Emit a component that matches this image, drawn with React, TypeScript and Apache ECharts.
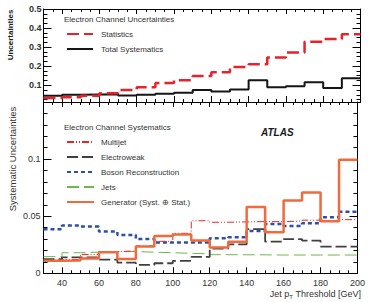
import React, { useEffect, useRef } from "react";
import * as echarts from "echarts";

const binEdges = [30, 40, 50, 60, 70, 80, 90, 100, 110, 120, 130, 140, 150, 160, 170, 180, 190, 200];
const xTickLabels = [40, 60, 80, 100, 120, 140, 160, 180, 200];
const topYTickLabels = [0.1, 0.2, 0.3, 0.4, 0.5];

const statistics = [0.033, 0.037, 0.045, 0.058, 0.075, 0.09, 0.112, 0.126, 0.148, 0.168, 0.196, 0.21, 0.246, 0.272, 0.328, 0.342, 0.367];
const totalSystematics = [0.045, 0.05, 0.052, 0.053, 0.046, 0.05, 0.055, 0.061, 0.075, 0.067, 0.077, 0.126, 0.089, 0.095, 0.116, 0.086, 0.137];

const multijet = [0.0105, 0.012, 0.0165, 0.019, 0.0195, 0.024, 0.028, 0.035, 0.046, 0.0447, 0.045, 0.0453, 0.0452, 0.0458, 0.0465, 0.046, 0.047];
const electroweak = [0.0123, 0.014, 0.014, 0.012, 0.0093, 0.0073, 0.0088, 0.0108, 0.0143, 0.0216, 0.0254, 0.0386, 0.0277, 0.03, 0.0286, 0.0234, 0.0234];
const bosonReconstruction = [0.0386, 0.0418, 0.041, 0.0365, 0.0335, 0.03, 0.027, 0.027, 0.027, 0.0307, 0.0316, 0.037, 0.0432, 0.0415, 0.0438, 0.049, 0.0538];
const jets = [0.0146, 0.018, 0.0185, 0.019, 0.019, 0.0185, 0.018, 0.0175, 0.017, 0.0163, 0.0162, 0.0162, 0.016, 0.016, 0.016, 0.016, 0.016];
const generator = [0.011, 0.0113, 0.013, 0.0184, 0.0125, 0.0234, 0.0327, 0.034, 0.0288, 0.0225, 0.0277, 0.058, 0.036, 0.0637, 0.0707, 0.0456, 0.0994];

const FONT = "'Liberation Sans', Arial, Helvetica, sans-serif";

function steps(vals: number[]) {
  return binEdges.map((e, i) => [e, vals[Math.min(i, vals.length - 1)]]);
}

const minorTopTicks: number[] = [];
for (let i = 1; i <= 20; i++) minorTopTicks.push(Math.round(i * 25) / 1000);

function xAxes(grid: number, labels: boolean) {
  const base = {
    type: "value",
    gridIndex: grid,
    min: 30,
    max: 200,
    splitLine: { show: false },
  };
  return [
    {
      ...base,
      position: "bottom",
      interval: 5,
      axisLine: { show: true, onZero: false, lineStyle: { color: "#000", width: 1 } },
      axisTick: { show: true, inside: true, length: 3, lineStyle: { color: "#000" } },
      axisLabel: labels
        ? { show: true, customValues: xTickLabels, fontSize: 9, color: "#333", fontFamily: FONT, margin: 5 }
        : { show: false },
    },
    {
      ...base,
      position: "bottom",
      axisLine: { show: false, onZero: false },
      axisTick: { show: true, inside: true, length: 6, customValues: xTickLabels, lineStyle: { color: "#000" } },
      axisLabel: { show: false },
    },
    {
      ...base,
      position: "top",
      interval: 5,
      axisLine: { show: true, onZero: false, lineStyle: { color: "#000", width: 1 } },
      axisTick: { show: true, inside: true, length: 3, lineStyle: { color: "#000" } },
      axisLabel: { show: false },
    },
    {
      ...base,
      position: "top",
      axisLine: { show: false, onZero: false },
      axisTick: { show: true, inside: true, length: 5, customValues: xTickLabels, lineStyle: { color: "#000" } },
      axisLabel: { show: false },
    },
  ];
}

export default function App() {
  const ref = useRef<HTMLDivElement>(null);
  useEffect(() => {
    document.body.style.margin = "0";
    if (!ref.current) return;
    const chart = echarts.init(ref.current, null, { renderer: "svg" });

    const topY = { type: "value", gridIndex: 0, min: 0.012, max: 0.5, splitLine: { show: false } };
    const botY = { type: "value", gridIndex: 1, min: 0, max: 0.15, splitLine: { show: false } };

    const yAxis: any[] = [];
    (["left", "right"] as const).forEach((pos) => {
      yAxis.push({
        ...topY,
        position: pos,
        axisLine: { show: true, onZero: false, lineStyle: { color: "#000" } },
        axisTick: { show: true, inside: true, length: 4, customValues: minorTopTicks, lineStyle: { color: "#000" } },
        axisLabel: { show: false },
      });
      yAxis.push({
        ...topY,
        position: pos,
        axisLine: { show: false, onZero: false },
        axisTick: { show: true, inside: true, length: 8, customValues: topYTickLabels, lineStyle: { color: "#000" } },
        axisLabel:
          pos === "left"
            ? { show: true, customValues: topYTickLabels, fontSize: 9, fontWeight: "bold", color: "#333", fontFamily: FONT, margin: 2, formatter: (v: number) => String(v) }
            : { show: false },
      });
    });
    (["left", "right"] as const).forEach((pos) => {
      yAxis.push({
        ...botY,
        position: pos,
        interval: 0.01,
        axisLine: { show: true, onZero: false, lineStyle: { color: "#000" } },
        axisTick: { show: true, inside: true, length: 4, lineStyle: { color: "#000" } },
        axisLabel: { show: false },
      });
      yAxis.push({
        ...botY,
        position: pos,
        interval: 0.05,
        axisLine: { show: false, onZero: false },
        axisTick: { show: true, inside: true, length: 8, lineStyle: { color: "#000" } },
        axisLabel:
          pos === "left"
            ? {
                show: true,
                fontSize: 9,
                color: "#333",
                fontFamily: FONT,
                margin: 3,
                showMaxLabel: false,
                formatter: (v: number) => (v === 0 ? "0" : v > 0.14 ? "" : String(Math.round(v * 100) / 100)),
              }
            : { show: false },
      });
    });

    const mk = (name: string, vals: number[], grid: number, lineStyle: any) => ({
      name,
      type: "line",
      step: "end",
      xAxisIndex: grid === 0 ? 0 : 4,
      yAxisIndex: grid === 0 ? 0 : 4,
      data: steps(vals),
      symbol: "none",
      lineStyle,
      itemStyle: { color: lineStyle.color },
    });

    const legendCommon = {
      orient: "vertical",
      left: 66,
      padding: 0,
      itemHeight: 8,
      itemGap: 7,
      selectedMode: false,
      itemStyle: { opacity: 0 },
    };

    const option: any = {
      animation: false,
      grid: [
        { left: 43.5, width: 317, top: 9, height: 93 },
        { left: 43.5, width: 317, top: 102, height: 171.3 },
      ],
      xAxis: [...xAxes(0, false), ...xAxes(1, true)],
      yAxis,
      legend: [
        {
          ...legendCommon,
          data: ["Statistics", "Total Systematics"],
          top: 30,
          itemWidth: 26,
          textStyle: { fontSize: 8, color: "#333", fontFamily: FONT, padding: [0, 0, 0, 3] },
        },
        {
          ...legendCommon,
          data: ["Multijet", "Electroweak", "Boson Reconstruction", "Jets", "Generator (Syst. ⊕ Stat.)"],
          top: 138,
          itemWidth: 27,
          textStyle: { fontSize: 8, color: "#333", fontFamily: FONT, padding: [0, 0, 0, 2] },
        },
      ],
      series: [
        mk("Total Systematics", totalSystematics, 0, { color: "#151515", width: 2, type: "solid" }),
        mk("Statistics", statistics, 0, { color: "#e8222a", width: 2.5, type: [12, 5] }),
        mk("Jets", jets, 1, { color: "#6cb84c", width: 1, type: [12, 5] }),
        mk("Electroweak", electroweak, 1, { color: "#404040", width: 1.8, type: [11, 4] }),
        mk("Boson Reconstruction", bosonReconstruction, 1, { color: "#2f4fa6", width: 2.5, type: [4, 3] }),
        mk("Multijet", multijet, 1, { color: "#e8262a", width: 1, type: [7, 2, 1, 2, 1, 2] }),
        mk("Generator (Syst. ⊕ Stat.)", generator, 1, { color: "#f26a3c", width: 2.5, type: "solid" }),
      ],
      graphic: [
        {
          type: "text",
          x: 64,
          y: 19,
          style: { text: "Electron Channel Uncertainties", fontSize: 8, fontFamily: FONT, fill: "#333", verticalAlign: "middle" },
        },
        {
          type: "text",
          x: 64,
          y: 127,
          style: { text: "Electron Channel Systematics", fontSize: 8, fontFamily: FONT, fill: "#333", verticalAlign: "middle" },
        },
        {
          type: "text",
          x: 261,
          y: 132,
          style: { text: "ATLAS", fontSize: 10, fontWeight: "bold", fontStyle: "italic", fontFamily: FONT, fill: "#1a1a1a", verticalAlign: "middle" },
        },
        {
          type: "text",
          x: 10,
          y: 35,
          rotation: Math.PI / 2,
          style: { text: "Uncertainties", fontSize: 8, fontWeight: "bold", fontFamily: FONT, fill: "#222", align: "center", verticalAlign: "middle" },
        },
        {
          type: "text",
          x: 12,
          y: 159,
          rotation: Math.PI / 2,
          style: { text: "Systematic Uncertainties", fontSize: 9.5, fontFamily: FONT, fill: "#333", align: "center", verticalAlign: "middle" },
        },
        {
          type: "text",
          x: 361,
          y: 294,
          style: {
            text: "Jet p{s|T} Threshold [GeV]",
            fontSize: 9,
            fontFamily: FONT,
            fill: "#333",
            align: "right",
            verticalAlign: "middle",
            rich: { s: { fontSize: 6, fontFamily: FONT, fill: "#333", padding: [5, 0, 0, 0] } },
          },
        },
      ],
    };
    chart.setOption(option);
    return () => chart.dispose();
  }, []);
  return <div ref={ref} style={{ position: "absolute", left: 0, top: 0, width: 368, height: 302 }} />;
}
